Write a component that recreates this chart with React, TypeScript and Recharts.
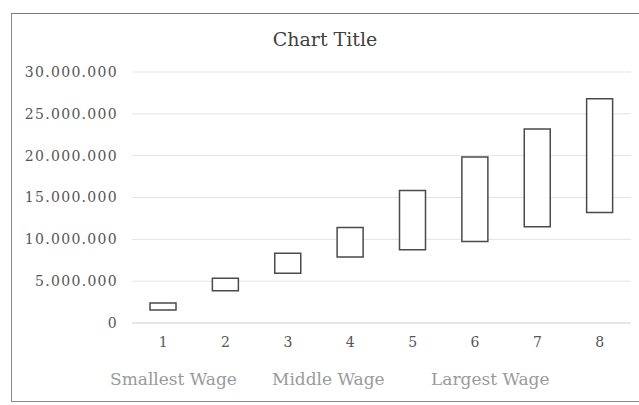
import React from 'react';
import { BarChart, Bar, XAxis, YAxis, CartesianGrid } from 'recharts';

// Floating wage bars: each box spans smallest -> largest wage
const categories = ['1', '2', '3', '4', '5', '6', '7', '8'];
const smallestWage = [1550000, 3850000, 5950000, 7900000, 8750000, 9750000, 11500000, 13200000];
const largestWage = [2400000, 5350000, 8350000, 11400000, 15850000, 19850000, 23200000, 26800000];
const legendNames = ['Smallest Wage', 'Middle Wage', 'Largest Wage'];
const yTicks = [0, 5000000, 10000000, 15000000, 20000000, 25000000, 30000000];
const chartTitle = 'Chart Title';

// layout only
const legendLeft = [110, 272, 431];
const serif = '"DejaVu Serif", "Liberation Serif", serif';

const fmt = (v: number) => String(v).replace(/\B(?=(\d{3})+(?!\d))/g, '.');

export default function App() {
  const data = categories.map((name, i) => ({
    name,
    range: [smallestWage[i], largestWage[i]],
  }));

  return (
    <div style={{ position: 'absolute', left: 0, top: 0, width: 639, height: 405, background: '#fff', overflow: 'hidden' }}>
      <div
        style={{
          position: 'absolute',
          left: 11,
          top: 13,
          width: 640,
          height: 389,
          borderTop: '1.5px solid #7a7a7a',
          borderLeft: '1.5px solid #8a8a8a',
          borderBottom: '1.5px solid #8a8a8a',
          boxSizing: 'border-box',
        }}
      />
      <BarChart
        width={639}
        height={405}
        data={data}
        margin={{ top: 72, right: 8, bottom: 52, left: 0 }}
        barSize={26}
      >
        <CartesianGrid vertical={false} stroke="#e3e3e3" />
        <XAxis
          dataKey="name"
          height={30}
          axisLine={{ stroke: '#dcdcdc' }}
          tickLine={false}
          tickMargin={8}
          tick={{ fill: '#555', fontSize: 14, fontFamily: serif }}
        />
        <YAxis
          width={132}
          domain={[0, 30000000]}
          ticks={yTicks}
          interval={0}
          axisLine={false}
          tickLine={false}
          tickMargin={8}
          tickFormatter={fmt}
          tick={{ fill: '#555', fontSize: 14, fontFamily: serif, letterSpacing: 1.3 }}
        />
        <Bar dataKey="range" fill="#fff" stroke="#4a4a4a" strokeWidth={1.5} isAnimationActive={false} />
      </BarChart>
      <div
        style={{
          position: 'absolute',
          left: 0,
          width: 650,
          top: 28,
          textAlign: 'center',
          fontFamily: serif,
          fontSize: 19,
          color: '#404040',
        }}
      >
        {chartTitle}
      </div>
      {legendNames.map((n, i) => (
        <div
          key={n}
          style={{
            position: 'absolute',
            left: legendLeft[i],
            top: 369,
            fontFamily: serif,
            fontSize: 17,
            color: '#9a9a9a',
            whiteSpace: 'nowrap',
          }}
        >
          {n}
        </div>
      ))}
    </div>
  );
}
